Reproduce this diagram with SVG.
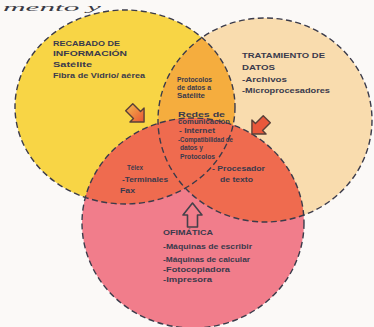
<svg xmlns="http://www.w3.org/2000/svg" width="374" height="327" viewBox="0 0 374 327">
<defs>
<style>
.t{font-family:"Liberation Sans",Arial,sans-serif;font-size:7.5px;fill:#3a3a4c;font-weight:bold}
.s{font-family:"Liberation Sans",Arial,sans-serif;font-size:6.5px;fill:#3a3a4c;font-weight:bold}
.ring{fill:none;stroke:#3b3b4a;stroke-width:1.4;stroke-dasharray:6 3.5}
.arr{stroke:#5a4038;stroke-width:1.4;stroke-linejoin:round}
</style>
<clipPath id="cY"><ellipse cx="125" cy="107" rx="110" ry="97"/></clipPath>
<clipPath id="cB"><ellipse cx="193" cy="223" rx="111" ry="105"/></clipPath>
<linearGradient id="gA" x1="0" y1="0" x2="0" y2="1">
<stop offset="0" stop-color="#f3a848"/><stop offset="1" stop-color="#e85434"/>
</linearGradient>
<path id="ar" d="M-5,-11 L5,-11 L5,0 L10,0 L0,10 L-10,0 L-5,0 Z"/>
</defs>
<rect width="374" height="327" fill="#fbf9f7"/>
<text x="3" y="10.5" font-family="Liberation Serif,serif" font-style="italic" font-size="10.5" fill="#3a3a44" textLength="98" lengthAdjust="spacingAndGlyphs">mento y</text>

<g id="fills">
<ellipse cx="125" cy="107" rx="110" ry="97" fill="#f8d545"/>
<ellipse cx="265" cy="120" rx="107" ry="102" fill="#f9dcae"/>
<ellipse cx="265" cy="120" rx="107" ry="102" fill="#f5ad3e" clip-path="url(#cY)"/>
<ellipse cx="193" cy="223" rx="111" ry="105" fill="#f17d8b"/>
<g clip-path="url(#cB)">
<ellipse cx="125" cy="107" rx="110" ry="97" fill="#ef6b4f"/>
<ellipse cx="265" cy="120" rx="107" ry="102" fill="#ef6b4f"/>
</g>
</g>

<g id="node-recabado">
<ellipse class="ring" cx="125" cy="107" rx="110" ry="97"/>
<text class="t" x="53" y="45.5" textLength="67" lengthAdjust="spacingAndGlyphs">RECABADO DE</text>
<text class="t" x="53" y="56" textLength="74" lengthAdjust="spacingAndGlyphs">INFORMACIÓN</text>
<text class="t" x="53" y="67" textLength="39" lengthAdjust="spacingAndGlyphs">Satélite</text>
<text class="t" x="53" y="78" textLength="92" lengthAdjust="spacingAndGlyphs">Fibra de Vidrio/ aérea</text>
</g>

<g id="node-tratamiento">
<ellipse class="ring" cx="265" cy="120" rx="107" ry="102"/>
<text class="t" x="242" y="58" textLength="83" lengthAdjust="spacingAndGlyphs">TRATAMIENTO DE</text>
<text class="t" x="242" y="70" textLength="33" lengthAdjust="spacingAndGlyphs">DATOS</text>
<text class="t" x="242" y="82" textLength="45" lengthAdjust="spacingAndGlyphs">-Archivos</text>
<text class="t" x="242" y="93" textLength="88" lengthAdjust="spacingAndGlyphs">-Microprocesadores</text>
</g>

<g id="node-ofimatica">
<ellipse class="ring" cx="193" cy="223" rx="111" ry="105"/>
<text class="t" x="163" y="235" textLength="50" lengthAdjust="spacingAndGlyphs">OFIMÁTICA</text>
<text class="t" x="163" y="249" textLength="89" lengthAdjust="spacingAndGlyphs">-Máquinas de escribir</text>
<text class="t" x="163" y="261.5" textLength="87" lengthAdjust="spacingAndGlyphs">-Máquinas de calcular</text>
<text class="t" x="163" y="272" textLength="67" lengthAdjust="spacingAndGlyphs">-Fotocopiadora</text>
<text class="t" x="163" y="282" textLength="49" lengthAdjust="spacingAndGlyphs">-Impresora</text>
</g>

<g id="node-satelite">
<text class="s" x="177" y="82" textLength="35" lengthAdjust="spacingAndGlyphs">Protocolos</text>
<text class="s" x="177" y="90" textLength="34" lengthAdjust="spacingAndGlyphs">de datos a</text>
<text class="s" x="177" y="98" textLength="28" lengthAdjust="spacingAndGlyphs">Satélite</text>
</g>

<g id="node-centro">
<text class="s" x="178" y="117" textLength="47" lengthAdjust="spacingAndGlyphs">Redes de</text>
<text class="s" x="178" y="124" textLength="52" lengthAdjust="spacingAndGlyphs">comunicación</text>
<text class="s" x="179" y="133" textLength="36" lengthAdjust="spacingAndGlyphs">- Internet</text>
<text class="s" x="178" y="142" textLength="55" lengthAdjust="spacingAndGlyphs">-Compatibilidad de</text>
<text class="s" x="180" y="150" textLength="23" lengthAdjust="spacingAndGlyphs">datos y</text>
<text class="s" x="180" y="159" textLength="35" lengthAdjust="spacingAndGlyphs">Protocolos</text>
</g>

<g id="node-telex">
<text class="t" x="127" y="170" textLength="16" lengthAdjust="spacingAndGlyphs">Télex</text>
<text class="t" x="122" y="182" textLength="46" lengthAdjust="spacingAndGlyphs">-Terminales</text>
<text class="t" x="120" y="193" textLength="15" lengthAdjust="spacingAndGlyphs">Fax</text>
</g>

<g id="node-procesador">
<text class="t" x="212" y="171" textLength="53" lengthAdjust="spacingAndGlyphs">- Procesador</text>
<text class="t" x="220" y="182" textLength="33" lengthAdjust="spacingAndGlyphs">de texto</text>
</g>

<g id="connectors">
<use href="#ar" class="arr" fill="url(#gA)" transform="translate(137,115) rotate(-45)"/>
<use href="#ar" class="arr" fill="#e9583b" transform="translate(259,127) rotate(45)"/>
<path d="M187.5,227 L197.5,227 L197.5,215 L202,215 L192.5,203 L183,215 L187.5,215 Z" fill="none" stroke="#45414a" stroke-width="1.6" stroke-linejoin="round"/>
</g>
</svg>
